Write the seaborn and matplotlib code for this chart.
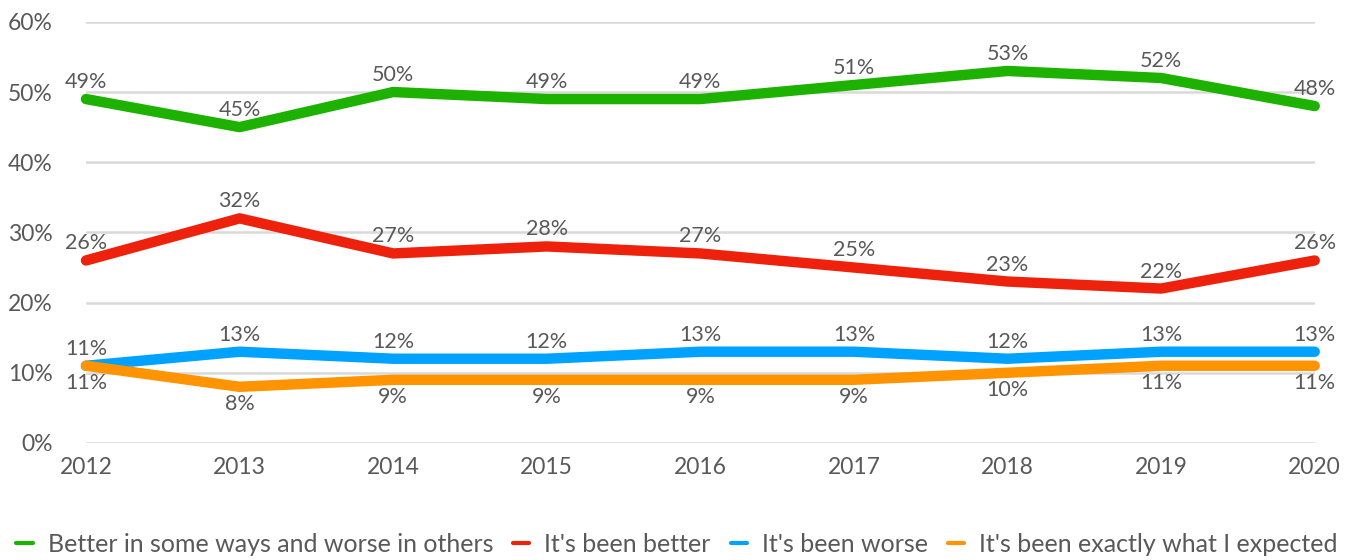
import pandas as pd
import seaborn as sns
import matplotlib.pyplot as plt

### data
years = [2012, 2013, 2014, 2015, 2016, 2017, 2018, 2019, 2020]
better_some_ways = [49, 45, 50, 49, 49, 51, 53, 52, 48]
been_better = [26, 32, 27, 28, 27, 25, 23, 22, 26]
been_worse = [11, 13, 12, 12, 13, 13, 12, 13, 13]
as_expected = [11, 8, 9, 9, 9, 9, 10, 11, 11]

series_names = ["Better in some ways and worse in others", "It's been better",
                "It's been worse", "It's been exactly what I expected"]
series_values = [better_some_ways, been_better, been_worse, as_expected]
colors = ["#1DB100", "#EE220C", "#00A2FF", "#FF9300"]
# label above the line (+1) or below it (-1)
label_side = [1, 1, 1, -1]

### long table for seaborn
rows = []
for name, vals in zip(series_names, series_values):
    for y, v in zip(years, vals):
        rows.append({"year": y, "value": v, "series": name})
df = pd.DataFrame(rows)

sns.set_style("white")
plt.rcParams['font.family'] = ['Lato', 'DejaVu Sans']
text_col = "#595959"

fig = plt.figure(figsize=(13.54, 5.6), dpi=100)
ax = fig.add_axes([0.0635, 0.209, 0.9075, 0.752])

sns.lineplot(data=df, x="year", y="value", hue="series", hue_order=series_names,
             palette=colors, linewidth=7.5, ax=ax, legend=True)
for line in ax.get_lines():
    line.set_solid_capstyle("round")
    line.set_solid_joinstyle("round")
    line.set_clip_on(False)

# data labels
for name, vals, side in zip(series_names, series_values, label_side):
    for y, v in zip(years, vals):
        ax.annotate("{}%".format(v), (y, v), xytext=(0, 17 * side),
                    textcoords="offset pixels",
                    ha="center", va="center", fontsize=15.5, color=text_col)

ax.set_xlim(2012, 2020)
ax.set_ylim(0, 60)
ax.set_xticks(years)
ax.set_yticks(range(0, 61, 10))
ax.set_yticklabels(["{}%".format(t) for t in range(0, 61, 10)])
ax.yaxis.grid(True, color="#d9d9d9", linewidth=1.8)
ax.set_axisbelow(True)
for s in ax.spines.values():
    s.set_visible(False)
ax.tick_params(axis="both", length=0, labelsize=16.5, labelcolor=text_col)
ax.tick_params(axis="x", pad=10)
ax.tick_params(axis="y", pad=24)
ax.set_xlabel("")
ax.set_ylabel("")

leg = ax.legend(loc="center", bbox_to_anchor=(0.481, -0.24), ncol=4, frameon=False,
                fontsize=18, handlelength=0.65, handletextpad=0.6, columnspacing=0.8)
for h in leg.legend_handles:
    h.set_linewidth(3)
for t in leg.get_texts():
    t.set_color(text_col)

fig.savefig("out.png", dpi=100)
